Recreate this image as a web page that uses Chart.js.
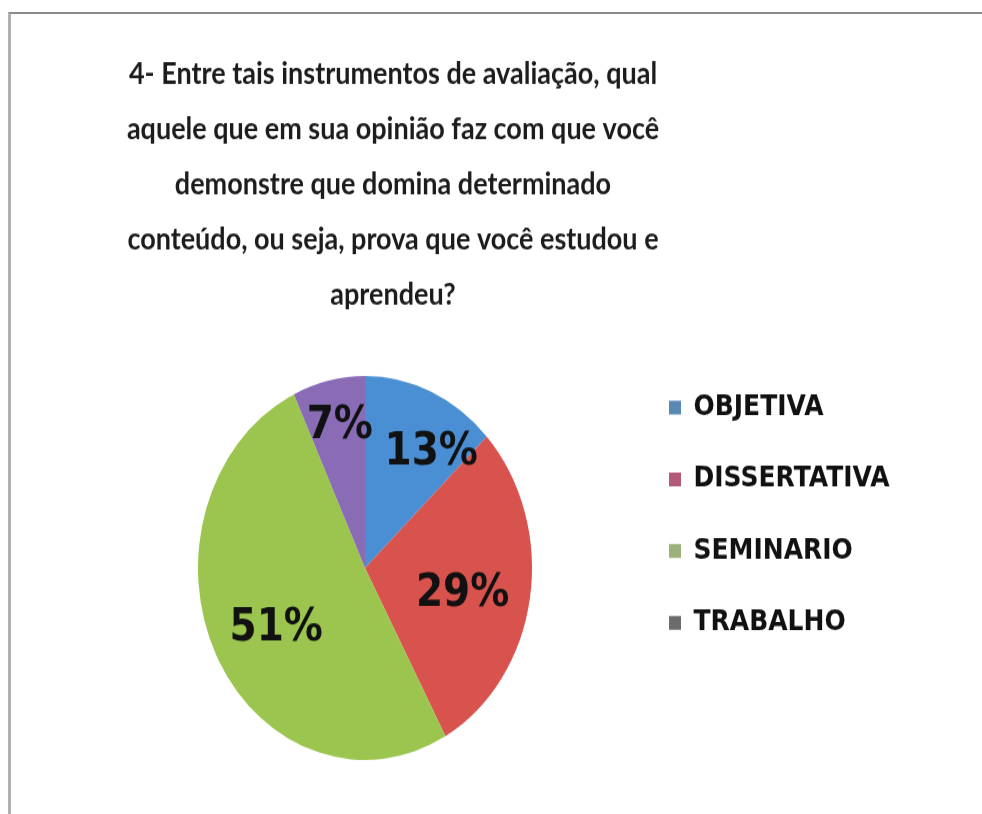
<!DOCTYPE html>
<html>
<head>
<meta charset="utf-8">
<script src="https://cdn.jsdelivr.net/npm/chart.js@4.4.0/dist/chart.umd.min.js"></script>
<style>
  html, body { margin: 0; padding: 0; background: #fff; }
  body { width: 982px; height: 814px; overflow: hidden; position: relative; }
  #frame {
    position: absolute; left: 8px; top: 12px; width: 974px; height: 802px;
    border-top: 2px solid #8a8a8a; border-left: 3px solid #b0b0b0;
  }
  #pie {
    position: absolute; left: 0; top: 0;
    transform-origin: 0 0; transform: scaleY(1.1497);
  }
</style>
</head>
<body>
<div id="frame"></div>
<canvas id="pie" width="982" height="708"></canvas>
<script>
// Answers to question 4 (percent of students)
const LABELS = ['OBJETIVA', 'DISSERTATIVA', 'SEMINARIO', 'TRABALHO'];
const VALUES = [13, 29, 51, 7];
const TITLE_LINES = [
  '4- Entre tais instrumentos de avaliação, qual',
  'aquele que em sua opinião faz com que você',
  'demonstre que domina determinado',
  'conteúdo, ou seja, prova que você estudou e',
  'aprendeu?'
];

const SLICE_COLORS = ['#4a8fd3', '#d9534e', '#9cc54f', '#8a6cb6'];
const SWATCH_COLORS = ['#5a88b4', '#b55a76', '#9bb07a', '#6c6c6c'];
// where each percentage sits: fraction of radius, and turn from the slice middle (deg)
const LABEL_RADIUS = [0.72, 0.6, 0.62, 0.75];
const LABEL_TURN = [10, 4, -4, 1];

// percentages written inside the slices
const sliceLabels = {
  id: 'sliceLabels',
  afterDatasetsDraw(chart) {
    const ctx = chart.ctx;
    const meta = chart.getDatasetMeta(0);
    ctx.save();
    ctx.font = 'bold 39px "DejaVu Sans"';
    ctx.fillStyle = '#111';
    ctx.textAlign = 'center';
    ctx.textBaseline = 'middle';
    meta.data.forEach((arc, i) => {
      const p = arc.getProps(['x', 'y', 'startAngle', 'endAngle', 'outerRadius'], true);
      const mid = (p.startAngle + p.endAngle) / 2 + LABEL_TURN[i] * Math.PI / 180;
      const r = p.outerRadius * LABEL_RADIUS[i];
      ctx.fillText(VALUES[i] + '%', p.x + Math.cos(mid) * r, p.y + Math.sin(mid) * r);
    });
    ctx.restore();
  }
};

// the legend sits in a narrow slot next to the pie, let its text run past it
const legendOverflow = {
  id: 'legendOverflow',
  afterLayout(chart) {
    const lg = chart.legend;
    lg.right = chart.width;
    lg.width = lg.right - lg.left;
  }
};

new Chart(document.getElementById('pie'), {
  type: 'pie',
  data: {
    labels: LABELS,
    datasets: [{
      data: VALUES,
      backgroundColor: SLICE_COLORS,
      borderWidth: 0,
      radius: 167
    }]
  },
  options: {
    responsive: false,
    animation: false,
    devicePixelRatio: 1,
    layout: { padding: { left: 98.4, right: 294.4, top: 20, bottom: 24.6 } },
    plugins: {
      tooltip: { enabled: false },
      title: {
        display: true,
        text: TITLE_LINES,
        color: '#1c1c1c',
        font: { family: 'Lato', size: 27, weight: 'bold', lineHeight: 48 / 27 },
        padding: { top: 20, bottom: 24.6 }
      },
      legend: {
        position: 'right',
        align: 'start',
        fullSize: false,
        maxWidth: 56,
        labels: {
          color: '#111',
          font: { family: 'DejaVu Sans', size: 25, weight: 'bold' },
          boxWidth: 12,
          boxHeight: 12,
          padding: 37.4,
          generateLabels(chart) {
            const items = Chart.overrides.pie.plugins.legend.labels.generateLabels(chart);
            items.forEach((it, i) => {
              it.fillStyle = SWATCH_COLORS[i];
              it.strokeStyle = SWATCH_COLORS[i];
              it.lineWidth = 0;
            });
            return items;
          }
        }
      }
    }
  },
  plugins: [sliceLabels, legendOverflow]
});
</script>
</body>
</html>
